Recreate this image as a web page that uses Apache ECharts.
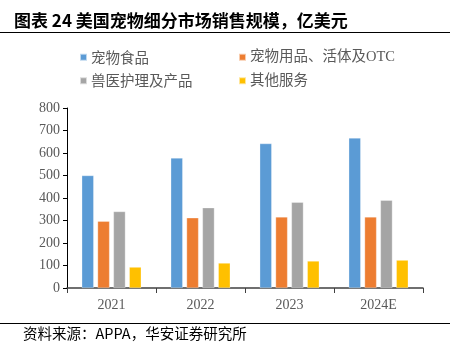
<!DOCTYPE html>
<html>
<head>
<meta charset="utf-8">
<script src="https://cdn.jsdelivr.net/npm/echarts@6/dist/echarts.min.js"></script>
<style>
  html, body { margin: 0; padding: 0; background: #fff; }
  #main { width: 455px; height: 351px; }
</style>
</head>
<body>
<div id="main"></div>
<script>
var years = ['2021', '2022', '2023', '2024E'];
var seriesNames = ['宠物食品', '宠物用品、活体及OTC', '兽医护理及产品', '其他服务'];
var food = [500, 578, 642, 667];
var supplies = [297, 312, 316, 316];
var vet = [340, 357, 381, 390];
var other = [93, 111, 120, 124];
var yTicks = [0, 800, 100];

var colors = ['#5B9BD5', '#ED7D31', '#A5A5A5', '#FFC000'];
var chart = echarts.init(document.getElementById('main'));

var serif = '"Liberation Serif", "Noto Sans CJK SC", serif';
var cjk = '"Noto Sans CJK SC", sans-serif';

function bar(name, data, color) {
  return {
    name: name,
    type: 'bar',
    data: data,
    barWidth: 12,
    barGap: '32%',
    itemStyle: { color: color, borderColor: 'rgba(255,255,255,0.6)', borderWidth: 0.5 },
    emphasis: { disabled: true }
  };
}

var option = {
  animation: false,
  color: colors,
  graphic: [
    {
      type: 'text', left: 14, top: 12,
      style: { text: '图表 24 美国宠物细分市场销售规模，亿美元', font: 'bold 17px ' + cjk, fill: '#000' }
    },
    {
      type: 'line', shape: { x1: 0, y1: 32.5, x2: 450, y2: 32.5 },
      style: { stroke: '#000', lineWidth: 1 }
    },
    {
      type: 'line', shape: { x1: 0, y1: 323.5, x2: 450, y2: 323.5 },
      style: { stroke: '#000', lineWidth: 1 }
    },
    {
      type: 'text', left: 23, top: 326,
      style: { text: '资料来源：APPA，华安证券研究所', font: '14.5px ' + cjk, fill: '#000' }
    }
  ],
  legend: [
    {
      orient: 'vertical', left: 74, top: 45,
      itemWidth: 7, itemHeight: 7, itemGap: 9,
      icon: 'rect',
      data: [seriesNames[0], seriesNames[2]],
      textStyle: { color: '#595959', fontSize: 14.5, fontFamily: cjk, padding: [0, 0, 0, -1] }
    },
    {
      orient: 'vertical', left: 233, top: 45,
      itemWidth: 7, itemHeight: 7, itemGap: 9,
      icon: 'rect',
      data: [seriesNames[1], seriesNames[3]],
      textStyle: { color: '#595959', fontSize: 14.5, fontFamily: serif, padding: [0, 0, 0, -1] }
    }
  ],
  grid: { left: 67, right: 32, top: 108, bottom: 63 },
  xAxis: {
    type: 'category',
    data: years,
    axisLine: { lineStyle: { color: '#404040', width: 1.5 } },
    axisTick: { show: true, length: 5, lineStyle: { color: '#404040' } },
    axisLabel: { color: '#595959', fontSize: 14, fontFamily: serif, margin: 10 }
  },
  yAxis: {
    type: 'value',
    min: yTicks[0],
    max: yTicks[1],
    interval: yTicks[2],
    splitLine: { show: false },
    axisLine: { show: true, lineStyle: { color: '#000', width: 1 } },
    axisTick: { show: true, length: 4, lineStyle: { color: '#000' } },
    axisLabel: { color: '#595959', fontSize: 14, fontFamily: serif, margin: 7 }
  },
  series: [
    bar(seriesNames[0], food, colors[0]),
    bar(seriesNames[1], supplies, colors[1]),
    bar(seriesNames[2], vet, colors[2]),
    bar(seriesNames[3], other, colors[3])
  ]
};

chart.setOption(option);
</script>
</body>
</html>
